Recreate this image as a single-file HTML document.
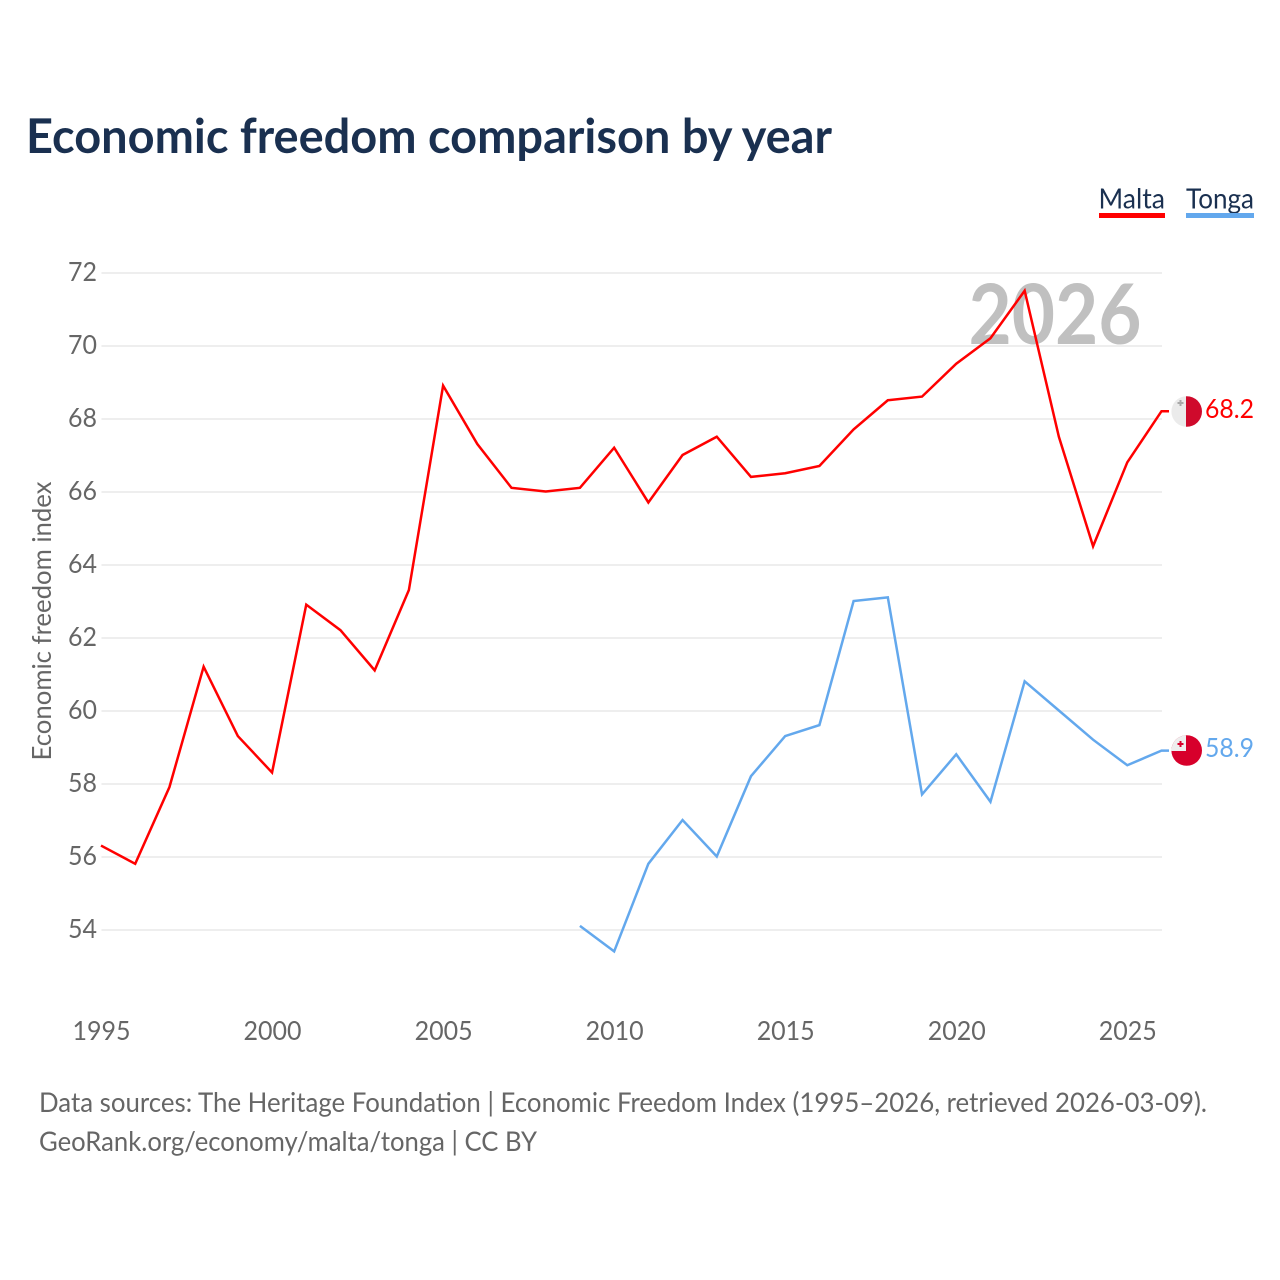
<!DOCTYPE html>
<html lang="en">
<head>
<meta charset="utf-8">
<title>Economic freedom comparison by year</title>
<style>
html,body{margin:0;padding:0;background:#fff;}
svg{display:block;font-family:"Lato","Carlito","Liberation Sans",sans-serif;}
</style>
</head>
<body>
<svg id="chart" xmlns="http://www.w3.org/2000/svg" width="1280" height="1280" viewBox="0 0 1280 1280">
  <rect x="0" y="0" width="1280" height="1280" fill="#ffffff"/>
  <text x="26" y="153" font-size="47.5" font-weight="700" fill="#1a3050" textLength="806" lengthAdjust="spacingAndGlyphs">Economic freedom comparison by year</text>

  <g>
    <text x="1098.500" y="208.500" font-size="28.5" fill="#1a3050" textLength="66.500" lengthAdjust="spacingAndGlyphs">Malta</text>
    <rect x="1099" y="213" width="66" height="5" fill="#ff0000"/>
  </g>
  <g>
    <text x="1186" y="208.500" font-size="28.5" fill="#1a3050" textLength="68" lengthAdjust="spacingAndGlyphs">Tonga</text>
    <rect x="1186" y="213" width="68" height="5" fill="#63a8ed"/>
  </g>

  <g id="grid"></g>
  <g id="yticks"></g>
  <g id="xticks"></g>

  <text transform="translate(51,621) rotate(-90)" text-anchor="middle" font-size="26.500" fill="#666666" textLength="279" lengthAdjust="spacingAndGlyphs">Economic freedom index</text>

  <text x="1141.500" y="344" text-anchor="end" font-size="83" font-weight="700" fill="#c0c0c0" textLength="173" lengthAdjust="spacingAndGlyphs">2026</text>

  <g id="series" transform="translate(-0.5,-0.5)"></g>

  <defs>
    <clipPath id="clip-malta"><circle cx="1186.700" cy="411.500" r="15.300"/></clipPath>
    <clipPath id="clip-tonga"><circle cx="1186.700" cy="750.500" r="15.300"/></clipPath>
  </defs>

  <g id="flag-malta" clip-path="url(#clip-malta)">
    <rect x="1171" y="396" width="15" height="31" fill="#ebebeb"/>
    <rect x="1186" y="396" width="17" height="31" fill="#cf0a2c"/>
    <path d="M1179.500 400h2v2h2v2h-2v2h-2v-2h-2v-2h2z" fill="#a9a9a9"/>
  </g>
  <g id="flag-tonga" clip-path="url(#clip-tonga)">
    <rect x="1171" y="735" width="32" height="32" fill="#d7002b"/>
    <rect x="1171" y="735" width="15" height="16" fill="#eeeeee"/>
    <path d="M1179.500 741h2v2h2v2h-2v2h-2v-2h-2v-2h2z" fill="#d7002b"/>
  </g>

  <text x="1205" y="418" font-size="26.500" fill="#ff0000" textLength="49" lengthAdjust="spacingAndGlyphs">68.2</text>
  <text x="1205" y="757" font-size="26.500" fill="#63a8ed" textLength="49" lengthAdjust="spacingAndGlyphs">58.9</text>

  <text x="39" y="1112" font-size="27.500" fill="#666666" textLength="1168" lengthAdjust="spacingAndGlyphs">Data sources: The Heritage Foundation | Economic Freedom Index (1995–2026, retrieved 2026-03-09).</text>
  <text x="39" y="1151" font-size="27.500" fill="#666666" textLength="498" lengthAdjust="spacingAndGlyphs">GeoRank.org/economy/malta/tonga | CC BY</text>
</svg>
<script>
const yTickValues = [54, 56, 58, 60, 62, 64, 66, 68, 70, 72];
const xTickYears = [1995, 2000, 2005, 2010, 2015, 2020, 2025];
const maltaYears = [1995,1996,1997,1998,1999,2000,2001,2002,2003,2004,2005,2006,2007,2008,2009,2010,2011,2012,2013,2014,2015,2016,2017,2018,2019,2020,2021,2022,2023,2024,2025,2026];
const maltaValues = [56.3,55.8,57.9,61.2,59.3,58.3,62.9,62.2,61.1,63.3,68.9,67.3,66.1,66.0,66.1,67.2,65.7,67.0,67.5,66.4,66.5,66.7,67.7,68.5,68.6,69.5,70.2,71.5,67.5,64.5,66.8,68.2];
const tongaYears = [2009,2010,2011,2012,2013,2014,2015,2016,2017,2018,2019,2020,2021,2022,2023,2024,2025,2026];
const tongaValues = [54.1,53.4,55.8,57.0,56.0,58.2,59.3,59.6,63.0,63.1,57.7,58.8,57.5,60.8,60.0,59.2,58.5,58.9];

const SVG_NS = 'http://www.w3.org/2000/svg';
const plotLeft = 101.5, plotRight = 1162;
function xScale(year) {
  return plotLeft + (year - 1995) * (plotRight - plotLeft) / (2026 - 1995);
}
function yScale(value) {
  return 930 + (value - 54) * (273 - 930) / (72 - 54);
}

const grid = document.getElementById('grid');
const yticks = document.getElementById('yticks');
const xticks = document.getElementById('xticks');
const series = document.getElementById('series');

yTickValues.forEach(function (v) {
  const line = document.createElementNS(SVG_NS, 'line');
  
  
  line.setAttribute('x1', plotLeft);
  line.setAttribute('x2', plotRight);
  line.setAttribute('y1', yScale(v));
  line.setAttribute('y2', yScale(v));
  line.setAttribute('stroke', '#eeeeee');
  line.setAttribute('stroke-width', '2');
  grid.appendChild(line);

  const label = document.createElementNS(SVG_NS, 'text');
  
  
  label.setAttribute('x', '97');
  label.setAttribute('y', yScale(v) + 8);
  label.setAttribute('text-anchor', 'end');
  label.setAttribute('font-size', '26.5');
  label.setAttribute('fill', '#666666');
  label.setAttribute('textLength', '29');
  label.setAttribute('lengthAdjust', 'spacingAndGlyphs');
  label.textContent = String(v);
  yticks.appendChild(label);
});

xTickYears.forEach(function (y) {
  const label = document.createElementNS(SVG_NS, 'text');
  
  
  label.setAttribute('x', xScale(y));
  label.setAttribute('y', '1040');
  label.setAttribute('text-anchor', 'middle');
  label.setAttribute('font-size', '26.5');
  label.setAttribute('fill', '#666666');
  label.setAttribute('textLength', '58');
  label.setAttribute('lengthAdjust', 'spacingAndGlyphs');
  label.textContent = String(y);
  xticks.appendChild(label);
});

function linePoints(years, values) {
  const pts = years.map(function (yr, i) {
    return xScale(yr).toFixed(2) + ',' + yScale(values[i]).toFixed(2);
  });
  const lastY = yScale(values[values.length - 1]).toFixed(2);
  pts.push((plotRight + 7.5) + ',' + lastY);
  return pts.join(' ');
}

const maltaLine = document.createElementNS(SVG_NS, 'polyline');


maltaLine.setAttribute('points', linePoints(maltaYears, maltaValues));
maltaLine.setAttribute('fill', 'none');
maltaLine.setAttribute('stroke', '#ff0000');
maltaLine.setAttribute('stroke-width', '2.5');
maltaLine.setAttribute('stroke-linejoin', 'miter');
series.appendChild(maltaLine);

const tongaLine = document.createElementNS(SVG_NS, 'polyline');


tongaLine.setAttribute('points', linePoints(tongaYears, tongaValues));
tongaLine.setAttribute('fill', 'none');
tongaLine.setAttribute('stroke', '#63a8ed');
tongaLine.setAttribute('stroke-width', '2.5');
tongaLine.setAttribute('stroke-linejoin', 'miter');
series.appendChild(tongaLine);
</script>
</body>
</html>
